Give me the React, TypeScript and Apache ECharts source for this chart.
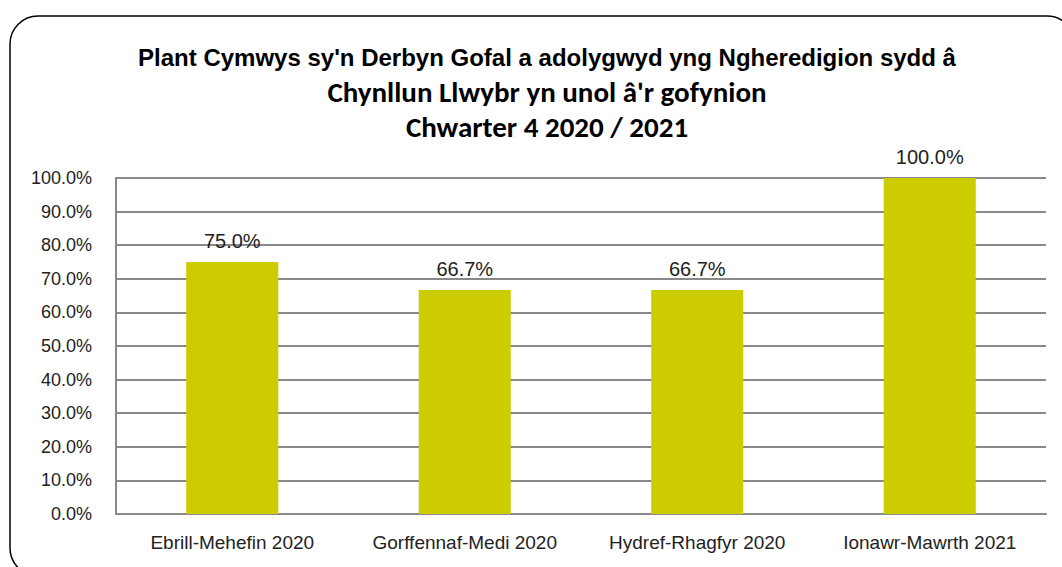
import React, { useEffect, useRef } from "react";
import * as echarts from "echarts";

const categories = [
  "Ebrill-Mehefin 2020",
  "Gorffennaf-Medi 2020",
  "Hydref-Rhagfyr 2020",
  "Ionawr-Mawrth 2021",
];
const values = [75.0, 66.7, 66.7, 100.0];
const titleLines = [
  "Plant Cymwys sy'n Derbyn Gofal a adolygwyd yng Ngheredigion sydd â",
  "Chynllun Llwybr yn unol â'r gofynion",
  "Chwarter 4 2020 / 2021",
];

const SANS = '"Liberation Sans", Arial, sans-serif';
const CAL = 'Carlito, Calibri, Lato, "Open Sans", sans-serif';

export default function App() {
  const ref = useRef<HTMLDivElement>(null);
  useEffect(() => {
    if (!ref.current) return;
    const chart = echarts.init(ref.current, null, { renderer: "svg" });
    chart.setOption({
      animation: false,
      backgroundColor: "#ffffff",
      title: [
        {
          text: titleLines[0],
          left: 542,
          top: 40,
          textAlign: "center",
          textStyle: { fontFamily: SANS, fontWeight: "bold", fontSize: 24, color: "#000" },
        },
        {
          text: titleLines[1],
          left: 542,
          top: 72,
          textAlign: "center",
          textStyle: { fontFamily: CAL, fontWeight: "bold", fontSize: 29, color: "#000" },
        },
        {
          text: titleLines[2],
          left: 542,
          top: 107,
          textAlign: "center",
          textStyle: { fontFamily: CAL, fontWeight: "bold", fontSize: 29, color: "#000" },
        },
      ],
      graphic: [
        {
          type: "rect",
          shape: { x: 10, y: 16, width: 1065, height: 560, r: 28 },
          style: { fill: "none", stroke: "#000", lineWidth: 1.5 },
          silent: true,
        },
      ],
      grid: { left: 116, right: 16, top: 178, bottom: 53, containLabel: false },
      xAxis: {
        type: "category",
        data: categories,
        axisLine: { show: true, lineStyle: { color: "#898989", width: 2 } },
        axisTick: { show: false },
        axisLabel: { fontFamily: SANS, fontSize: 19, color: "#222", margin: 19, interval: 0 },
      },
      yAxis: {
        type: "value",
        min: 0,
        max: 100,
        interval: 10,
        axisLine: { show: true, lineStyle: { color: "#898989", width: 2 } },
        axisTick: { show: false },
        splitLine: { show: true, lineStyle: { color: "#898989", width: 2 } },
        axisLabel: {
          fontFamily: SANS,
          fontSize: 18,
          color: "#222",
          margin: 24,
          formatter: (v: number) => v.toFixed(1) + "%",
        },
      },
      series: [
        {
          type: "bar",
          data: values,
          barWidth: "39.6%",
          itemStyle: { color: "#CCCC00" },
          label: {
            show: true,
            position: "top",
            distance: 11,
            fontFamily: SANS,
            fontSize: 20,
            color: "#222",
            formatter: (p: any) => Number(p.value).toFixed(1) + "%",
          },
        },
      ],
    });
    return () => chart.dispose();
  }, []);
  return (
    <div
      ref={ref}
      style={{ position: "fixed", left: 0, top: 0, width: 1062, height: 567 }}
    />
  );
}
